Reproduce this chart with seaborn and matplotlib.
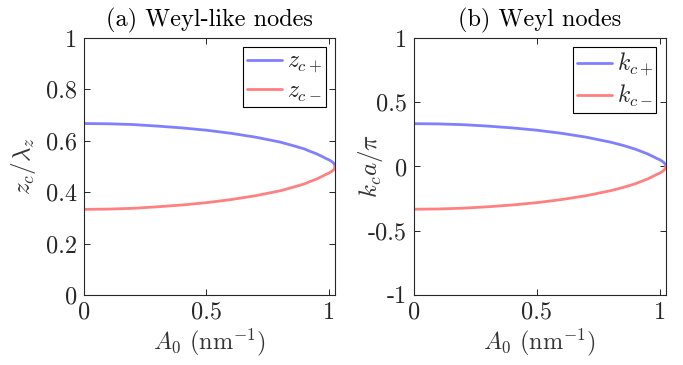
import numpy as np
import pandas as pd
import matplotlib
matplotlib.use('Agg')
import matplotlib.pyplot as plt
import seaborn as sns

# ─────────────────────────────────────────
# DATA
# ─────────────────────────────────────────
A0 = [0.0, 0.1, 0.2, 0.3, 0.4, 0.5, 0.6, 0.7, 0.8, 0.85, 0.9,
      0.92, 0.95, 0.98, 0.99, 1.0, 1.01, 1.015, 1.02, 1.023, 1.025]
z_plus = [0.667, 0.666, 0.663, 0.657, 0.650, 0.641, 0.629, 0.614, 0.595, 0.582, 0.568,
          0.560, 0.549, 0.535, 0.530, 0.526, 0.520, 0.517, 0.512, 0.507, 0.500]
z_minus = [0.333, 0.334, 0.337, 0.343, 0.350, 0.359, 0.371, 0.386, 0.405, 0.418, 0.432,
           0.440, 0.451, 0.465, 0.470, 0.474, 0.480, 0.483, 0.488, 0.493, 0.500]
k_plus = [0.333, 0.331, 0.325, 0.314, 0.300, 0.282, 0.258, 0.228, 0.189, 0.164, 0.135,
          0.120, 0.098, 0.070, 0.060, 0.052, 0.040, 0.033, 0.023, 0.014, 0.000]
k_minus = [-0.333, -0.331, -0.325, -0.314, -0.300, -0.282, -0.258, -0.228, -0.189, -0.164, -0.135,
           -0.120, -0.098, -0.070, -0.060, -0.052, -0.040, -0.033, -0.023, -0.014, 0.000]

x_ticks = [0, 0.5, 1]
x_ticklabels = ['0', '0.5', '1']
za_ticks = [0, 0.2, 0.4, 0.6, 0.8, 1]
za_ticklabels = ['0', '0.2', '0.4', '0.6', '0.8', '1']
kb_ticks = [-1, -0.5, 0, 0.5, 1]
kb_ticklabels = ['-1', '-0.5', '0', '0.5', '1']

BLUE = '#8080ff'
RED = '#ff8080'
AX_COL = '#262626'

sns.set_theme(style='ticks')
plt.rcParams['font.family'] = ['cmr10', 'DejaVu Serif']
plt.rcParams['mathtext.fontset'] = 'cm'
plt.rcParams['axes.unicode_minus'] = False
plt.rcParams['axes.edgecolor'] = AX_COL
plt.rcParams['xtick.color'] = AX_COL
plt.rcParams['ytick.color'] = AX_COL


def long_frame(y_plus, y_minus, name_plus, name_minus):
    df_p = pd.DataFrame({'A0': A0, 'y': y_plus, 'series': name_plus})
    df_m = pd.DataFrame({'A0': A0, 'y': y_minus, 'series': name_minus})
    return pd.concat([df_p, df_m], ignore_index=True)


def style_axes(ax, title, ylabel, yticks, yticklabels, ylim, ylabel_x):
    ax.set_xlim(0, 1.025)
    ax.set_ylim(*ylim)
    ax.set_xticks(x_ticks)
    ax.set_xticklabels(x_ticklabels)
    ax.set_yticks(yticks)
    ax.set_yticklabels(yticklabels)
    ax.tick_params(direction='in', top=True, right=True, length=4,
                   width=0.7, labelsize=17.5, pad=5)
    for sp in ax.spines.values():
        sp.set_visible(True)
        sp.set_linewidth(0.8)
    ax.set_title(title, fontsize=17.5, pad=8, color='black')
    ax.set_xlabel(r'$A_0$ (nm$^{-1}$)', fontsize=17.5, labelpad=2, color='#333333')
    ax.set_ylabel(ylabel, fontsize=18, color='#333333')
    ax.yaxis.set_label_coords(ylabel_x, 0.5)
    leg = ax.legend(loc='upper right', fontsize=17, frameon=True, fancybox=False,
                    edgecolor='black', framealpha=1, handlelength=1.5,
                    borderaxespad=0.4, labelspacing=0.22, handletextpad=0.2,
                    borderpad=0.15)
    leg.get_frame().set_linewidth(0.8)


fig = plt.figure(figsize=(6.83, 3.65), dpi=100)
ax1 = fig.add_axes([0.123, 0.192, 0.3675, 0.704])
ax2 = fig.add_axes([0.606, 0.192, 0.369, 0.704])

df_a = long_frame(z_plus, z_minus, r'$z_{c+}$', r'$z_{c-}$')
sns.lineplot(data=df_a, x='A0', y='y', hue='series', palette=[BLUE, RED],
             sort=False, estimator=None, linewidth=2, ax=ax1)
style_axes(ax1, '(a) Weyl-like nodes', r'$z_c/\lambda_z$',
           za_ticks, za_ticklabels, (0, 1), -0.183)

df_b = long_frame(k_plus, k_minus, r'$k_{c+}$', r'$k_{c-}$')
sns.lineplot(data=df_b, x='A0', y='y', hue='series', palette=[BLUE, RED],
             sort=False, estimator=None, linewidth=2, ax=ax2)
style_axes(ax2, '(b) Weyl nodes', r'$k_c a/\pi$',
           kb_ticks, kb_ticklabels, (-1, 1), -0.115)

fig.savefig('out.png', dpi=100)
